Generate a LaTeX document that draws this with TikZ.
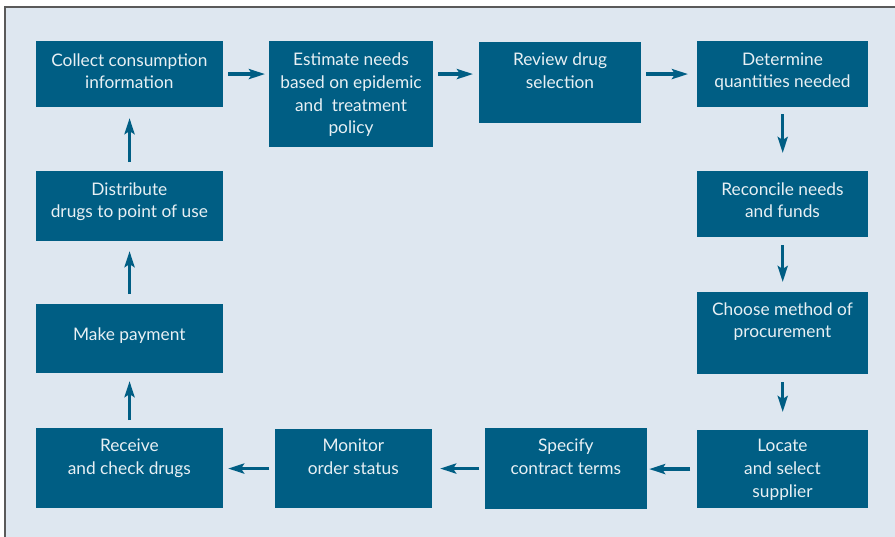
\documentclass[tikz,border=0pt]{standalone}
\usepackage{fontspec}
\setmainfont{Lato}
\usetikzlibrary{arrows.meta}
\definecolor{boxc}{HTML}{005E84}
\definecolor{bgc}{HTML}{DEE7F0}
\definecolor{framec}{HTML}{5A5A5A}
\definecolor{txtc}{HTML}{E8F0F4}
\tikzset{
  box/.style={fill=boxc, draw=none, inner sep=0pt, anchor=north west},
  txt/.style={text=txtc, inner sep=0pt, anchor=base, font=\fontsize{17.3}{22.7}\selectfont},
  arr/.style={draw=boxc, line width=3.2pt, -{Stealth[length=16pt,width=10pt,inset=3pt]}}
}
\newcommand\flowbox[7]{%
  \pgfmathsetmacro\fbw{#4-#2}%
  \node[box, minimum width={#4-#2}, minimum height={#5-#3}] (#1) at (#2,#3) {};
  \node[txt] (#1-t) at ({(#2+#4)/2},#6) {\parbox[t]{\fbw pt}{\centering #7}};
}
\begin{document}
\begin{tikzpicture}[x=1pt,y=-1pt]
\useasboundingbox (0,0) rectangle (895,536);
\clip (0,0) rectangle (895,536);
\fill[white] (0,0) rectangle (895,536);
\draw[framec, line width=1.4pt, fill=bgc] (5,7) rectangle (905,545);

\flowbox{collect}{36}{41}{222.7}{106.7}{66}{Collect consumption\\information}
\flowbox{estimate}{269}{41}{433}{146.7}{65.7}{Estimate needs\\based on epidemic\\and\ \ treatment\\policy}
\flowbox{review}{479}{42}{641}{122.7}{65.7}{Review drug\\selection}
\flowbox{determine}{697}{41}{868}{106.7}{65}{Determine\\quantities needed}
\flowbox{reconcile}{697}{171}{868}{236.7}{195}{Reconcile needs\\and funds}
\flowbox{choose}{697}{292}{868}{373.7}{315}{Choose method of\\procurement}
\flowbox{locate}{697}{430}{868}{507.7}{451.7}{Locate\\and select\\supplier}
\flowbox{specify}{485}{428}{646.7}{508.7}{451.7}{Specify\\contract terms}
\flowbox{monitor}{275}{429}{431.7}{507.7}{451.7}{Monitor\\order status}
\flowbox{receive}{36}{428}{222.7}{507.7}{451.7}{Receive\\and check drugs}
\flowbox{payment}{36}{304}{222.7}{372.7}{340}{Make payment}
\flowbox{distribute}{36}{171}{222.7}{240.7}{195}{Distribute\\drugs to point of use}

% top row
\draw[arr, shorten <=5pt, shorten >=4pt] (collect.east) -- (collect.east -| estimate.west);
\draw[arr, shorten <=5pt, shorten >=6pt] (estimate.east |- collect.east) -- (review.west |- collect.east);
\draw[arr, shorten <=5pt, shorten >=9pt] (review.east |- determine.west) -- (determine.west);
% right column
\draw[arr, shorten <=7pt, shorten >=18pt] (determine.south) -- (reconcile.north);
\draw[arr, shorten <=8pt, shorten >=10pt] (reconcile.south) -- (choose.north);
\draw[arr, shorten <=8pt, shorten >=18pt] (choose.south) -- (locate.north);
% bottom row
\draw[arr, shorten <=7pt, shorten >=2pt] (locate.west) -- (locate.west -| specify.east);
\draw[arr, shorten <=6pt, shorten >=8pt] (specify.west) -- (specify.west -| monitor.east);
\draw[arr, shorten <=6pt, shorten >=5pt] (monitor.west) -- (monitor.west -| receive.east);
% left column
\draw[arr, shorten <=8pt, shorten >=8pt] (receive.north) -- (payment.south);
\draw[arr, shorten <=10pt, shorten >=10pt] (payment.north) -- (distribute.south);
\draw[arr, shorten <=9pt, shorten >=11pt] (distribute.north) -- (collect.south);
\end{tikzpicture}
\end{document}
